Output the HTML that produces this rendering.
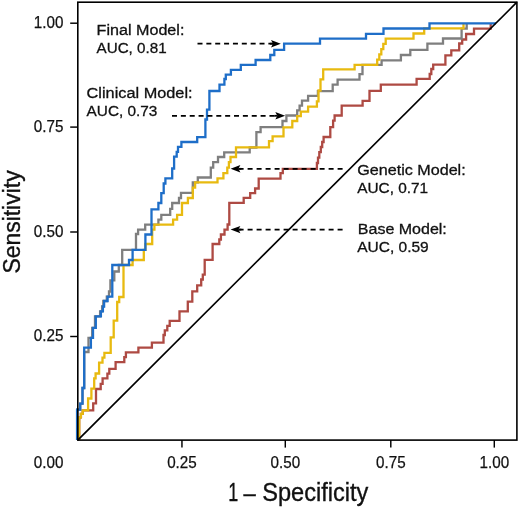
<!DOCTYPE html>
<html lang="en"><head><meta charset="utf-8"><title>ROC curves</title>
<style>html,body{margin:0;padding:0;background:#fff}svg{display:block}</style>
</head><body>
<svg width="520" height="508" viewBox="0 0 520 508" font-family="'Liberation Sans', Arial, Helvetica, sans-serif" fill="#111">
<rect x="0" y="0" width="520" height="508" fill="#fff"/>
<path d="M79.2 440.1V417.4H80.9V413.8H82.7V410.3H93.2V403.4H96V389H100.7V383.9H102.6V378.3H107.4V373.6H109.3V368.9H115.6V362.2H124.3V357.1H125.9V352.4H138.4V347.6H151.9V342.6H163.5V335H164.8V330.3H167.3V325.8H169.7V320.9H179.5V311.4H187.8V301.6H192.3V291.3H197.2V285.4H201.2V279.5H202.8V274.6H204.7V259.8H212.6V244H219.3V239.5H220.9V234.5H224.5V229.6H227.6V224.5H229.3V202.9H243.7V197.8H250.2V193.1H255.1V188.5H258.7V178.7H280.5V173.2H282.8V168.9H316.9V163H318V157.6H319.3V152.2H320.8V147H322.2V142H323.6V137H330.3V127.2H333.1V120.6H334.6V115.5H341.7V105.7H362.6V100.9H369.5V90.9H380.8V84.6H416.6V78.9H429.7V74H431.3V69H433.2V64.7H445.4V55.3H451.3V50.4H459.2V43.5H462.2V39.5H466.1V34H474V28.7H490.7V23.4H490.7" fill="none" stroke="#AE4A43" stroke-width="2.3" stroke-linejoin="miter"/>
<path d="M77.1 440.1V409.6H80.2V403.7H82.5V388H84.2V352H88.5V337.9H92.2V327.8H95.0V316.4H100.1V311.3H102.1V306.5H103.3V301H106.8V296.7H109V291.5H110.4V280.4H114.3V271.5H118.8V265H122.2V249.8H136V234H138.1V229.6H145.2V224.6H158.4V219.7H161.3V214.8H170.2V208.9H172.2V203H179V198H181V192.8H192.8V182.4H197.8V177.5H210.8V167.7H213.2V162.2H218V157H224.2V152.3H249.7V147.5H256.4V132.2H260.6V127.2H282.5V121H286.4V115.5H297.2V110.4H299.6V105.7H302V100.6H308.1V95.8H317.9V91.1H332.7V84.6H337.6V79.7H359.5V74.1H362.5V64.9H381.6V60.4H400.9V55H410.3V49.9H427.4V43.6H443V38.5H461.6V28.7H466.7V23.4H466.7" fill="none" stroke="#7F7F7F" stroke-width="2.3" stroke-linejoin="miter"/>
<path d="M79.2 440.1V417.4H80.9V413.8H82.7V410.3H88.1V398.5H91.4V388.6H94.2V378.4H95.6V373.5H99.1V362.6H102.5V357.7H104.4V352.8H110.7V337.4H113.7V320.7H117.2V302H119.2V297H123.5V265H132.6V260H143.8V249.8H145.4V244H152.2V229.6H154.4V224.6H173.1V219.7H177.1V214.8H182V203H187.9V198H192.8V187.7H195.1V182.4H217.5V178.4H223.4V173.1H227.3V167.7H228.9V162.2H230.5V157H236V147.3H269V141.1H272.6V136.4H283.5V127.3H292.3V121H297.2V116.1H300.8V111.6H308.1V106.7H316.9V101.3H318.5V90.5H320.5V79.3H323.2V69.4H354.6V64.9H377.2V59.6H379.3V54.3H381.3V49.2H383.3V43.9H385.7V38.7H413.5V33.5H424.2V28.4H463.5V23.4H463.5" fill="none" stroke="#E8BA10" stroke-width="2.3" stroke-linejoin="miter"/>
<path d="M77.1 440.1V409.6H80.2V403.7H82.5V388H84.2V347.6H90.9V337.9H93V327.8H95.8V316.4H100.9V311.3H102.9V306.5H104.1V301H107.6V296.7H112.3V265H129V260H132.6V249.8H145.4V234.5H151.5V209.3H158.4V203H161.3V193.1H163.7V183.5H165.4V178.4H172.2V168.5H174.1V156.7H176.7V151.8H178V146.9H181.4V142H197.2V137.2H205.4V119.5H207V109.7H209.4V91H219.5V84.6H224.4V79H225.8V74.7H230.9V69.8H240.8V64.9H255.6V60H270.3V55H274.3V49.9H284.1V43.6H320V38.7H366V33.8H383.5V28.5H429.5V23.4H496" fill="none" stroke="#1E6EC8" stroke-width="2.3" stroke-linejoin="miter"/>
<rect x="77.8" y="2.2" width="439.1" height="437.9" fill="none" stroke="#000" stroke-width="1.6"/>
<line x1="77.8" y1="440.1" x2="516.9" y2="2.2" stroke="#000" stroke-width="1.7"/>
<line x1="181.95" y1="440" x2="181.95" y2="447.6" stroke="#000" stroke-width="1.45"/>
<line x1="70.2" y1="336.50" x2="77.8" y2="336.50" stroke="#000" stroke-width="1.45"/>
<text x="181.95" y="468.2" font-size="16.5" text-anchor="middle" textLength="29.6" lengthAdjust="spacingAndGlyphs" stroke="#111" stroke-width="0.25">0.25</text>
<text x="63.4" y="341.30" font-size="16.5" text-anchor="end" textLength="29.6" lengthAdjust="spacingAndGlyphs" stroke="#111" stroke-width="0.25">0.25</text>
<line x1="285.30" y1="440" x2="285.30" y2="447.6" stroke="#000" stroke-width="1.45"/>
<line x1="70.2" y1="232.00" x2="77.8" y2="232.00" stroke="#000" stroke-width="1.45"/>
<text x="285.30" y="468.2" font-size="16.5" text-anchor="middle" textLength="29.6" lengthAdjust="spacingAndGlyphs" stroke="#111" stroke-width="0.25">0.50</text>
<text x="63.4" y="236.80" font-size="16.5" text-anchor="end" textLength="29.6" lengthAdjust="spacingAndGlyphs" stroke="#111" stroke-width="0.25">0.50</text>
<line x1="390.80" y1="440" x2="390.80" y2="447.6" stroke="#000" stroke-width="1.45"/>
<line x1="70.2" y1="127.10" x2="77.8" y2="127.10" stroke="#000" stroke-width="1.45"/>
<text x="390.80" y="468.2" font-size="16.5" text-anchor="middle" textLength="29.6" lengthAdjust="spacingAndGlyphs" stroke="#111" stroke-width="0.25">0.75</text>
<text x="63.4" y="131.90" font-size="16.5" text-anchor="end" textLength="29.6" lengthAdjust="spacingAndGlyphs" stroke="#111" stroke-width="0.25">0.75</text>
<line x1="494.30" y1="440" x2="494.30" y2="447.6" stroke="#000" stroke-width="1.45"/>
<line x1="70.2" y1="23.20" x2="77.8" y2="23.20" stroke="#000" stroke-width="1.45"/>
<text x="494.30" y="468.2" font-size="16.5" text-anchor="middle" textLength="29.6" lengthAdjust="spacingAndGlyphs" stroke="#111" stroke-width="0.25">1.00</text>
<text x="63.4" y="28.00" font-size="16.5" text-anchor="end" textLength="29.6" lengthAdjust="spacingAndGlyphs" stroke="#111" stroke-width="0.25">1.00</text>
<text x="63.4" y="468.0" font-size="16.5" text-anchor="end" textLength="29.6" lengthAdjust="spacingAndGlyphs" stroke="#111" stroke-width="0.25">0.00</text>
<line x1="197.5" y1="43.7" x2="273.0" y2="43.7" stroke="#000" stroke-width="1.8" stroke-dasharray="5 3.86"/><line x1="273.0" y1="43.7" x2="270.0" y2="43.7" stroke="#000" stroke-width="1.8"/><path d="M280.8 43.7L271.0 40.0L273.0 43.7L271.0 47.400000000000006Z" fill="#000"/>
<line x1="172.0" y1="115.8" x2="277.3" y2="115.8" stroke="#000" stroke-width="1.8" stroke-dasharray="5 3.86"/><line x1="277.3" y1="115.8" x2="274.3" y2="115.8" stroke="#000" stroke-width="1.8"/><path d="M285.1 115.8L275.3 112.1L277.3 115.8L275.3 119.5Z" fill="#000"/>
<line x1="342.6" y1="168.8" x2="238.4" y2="168.8" stroke="#000" stroke-width="1.8" stroke-dasharray="5 4.0"/><line x1="238.4" y1="168.8" x2="241.4" y2="168.8" stroke="#000" stroke-width="1.8"/><path d="M230.6 168.8L240.4 165.10000000000002L238.4 168.8L240.4 172.5Z" fill="#000"/>
<line x1="342.6" y1="229.6" x2="238.4" y2="229.6" stroke="#000" stroke-width="1.8" stroke-dasharray="5 4.0"/><line x1="238.4" y1="229.6" x2="241.4" y2="229.6" stroke="#000" stroke-width="1.8"/><path d="M230.6 229.6L240.4 225.9L238.4 229.6L240.4 233.29999999999998Z" fill="#000"/>
<text x="96.6" y="34.5" font-size="15.2" textLength="87.8" lengthAdjust="spacingAndGlyphs" stroke="#111" stroke-width="0.3">Final Model:</text>
<text x="96.6" y="53" font-size="15.2" textLength="70" lengthAdjust="spacingAndGlyphs" stroke="#111" stroke-width="0.3">AUC, 0.81</text>
<text x="86.6" y="98" font-size="15.2" textLength="106" lengthAdjust="spacingAndGlyphs" stroke="#111" stroke-width="0.3">Clinical Model:</text>
<text x="86.6" y="116.25" font-size="15.2" textLength="70.8" lengthAdjust="spacingAndGlyphs" stroke="#111" stroke-width="0.3">AUC, 0.73</text>
<text x="357.2" y="175.3" font-size="15.2" textLength="108.5" lengthAdjust="spacingAndGlyphs" stroke="#111" stroke-width="0.3">Genetic Model:</text>
<text x="357.2" y="193.3" font-size="15.2" textLength="71" lengthAdjust="spacingAndGlyphs" stroke="#111" stroke-width="0.3">AUC, 0.71</text>
<text x="357.8" y="233.7" font-size="15.2" textLength="89" lengthAdjust="spacingAndGlyphs" stroke="#111" stroke-width="0.3">Base Model:</text>
<text x="357.2" y="252.2" font-size="15.2" textLength="71.5" lengthAdjust="spacingAndGlyphs" stroke="#111" stroke-width="0.3">AUC, 0.59</text>
<text y="500.6" font-size="25" stroke="#111" stroke-width="0.35"><tspan x="228.2" textLength="10" lengthAdjust="spacingAndGlyphs">1</tspan> <tspan x="243.5" font-size="22">–</tspan> <tspan x="262.2" textLength="106.2" lengthAdjust="spacingAndGlyphs">Specificity</tspan></text>
<text transform="translate(19.7 273.6) rotate(-90)" font-size="23.5" textLength="103.2" lengthAdjust="spacingAndGlyphs" stroke="#111" stroke-width="0.35">Sensitivity</text>
</svg>
</body></html>
